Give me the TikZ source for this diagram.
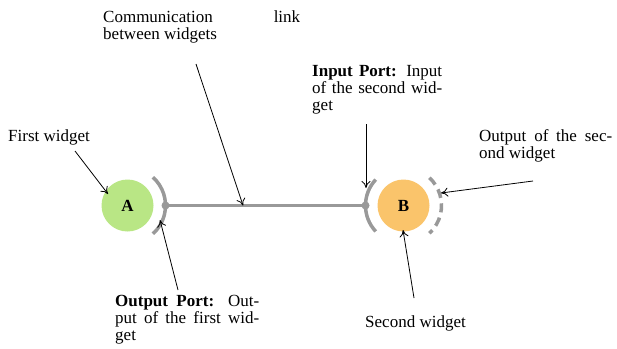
\documentclass[tikz,border=0pt]{standalone}
\usepackage{fontspec}
\setmainfont{Liberation Serif}
\usetikzlibrary{arrows.meta}
\definecolor{widgetA}{RGB}{185,230,133}
\definecolor{widgetB}{RGB}{250,196,107}
\definecolor{portgray}{RGB}{153,153,153}
\newcommand{\notefont}{\fontsize{17}{17.3}\selectfont}
\tikzset{
  widget/.style={circle, minimum size=52pt, inner sep=0pt, font=\notefont\bfseries},
  portarc/.style={draw=portgray, line width=3.5pt},
  portdot/.style={circle, fill=portgray, minimum size=8pt, inner sep=0pt},
  linkline/.style={draw=portgray, line width=3.5pt},
  callout/.style={draw=black, line width=0.8pt, -{To[length=7pt,width=9pt]}},
  note/.style={anchor=base west, inner sep=0pt, align=justify, font=\notefont},
}
\begin{document}
\begin{tikzpicture}[x=1pt, y=-1pt]
\useasboundingbox (0,0) rectangle (617,348);

% widgets
\node[widget, fill=widgetA] (A) at (127.5,205.5) {A};
\node[widget, fill=widgetB] (B) at (403.5,205.5) {B};

% ports
\draw[portarc] (A.center) ++(-48:38) arc[start angle=-48, end angle=48, radius=38];
\draw[portarc] (B.center) ++(137:38) arc[start angle=137, end angle=223, radius=38];
\draw[portarc, dash pattern=on 9pt off 5.5pt] (B.center) ++(-47:38) arc[start angle=-47, end angle=47, radius=38];

\node[portdot] (pA) at ([xshift=38pt]A.center) {};
\node[portdot] (pB) at ([xshift=-38pt]B.center) {};

% communication link
\draw[linkline] (pA.center) -- (pB.center);
\coordinate (linkmid) at (243,205.5);

% annotations
\node[note] (tFirst) at (8,141) {First widget};
\node[note, text width=197pt] (tLink) at (103,22) {Communication link\linebreak between widgets};
\node[note, text width=130pt] (tIn) at (312,76) {\textbf{Input Port:} Input of the second wid-\linebreak get};
\node[note, text width=133pt] (tOut2) at (479,141) {Output of the sec-\linebreak ond widget};
\node[note, text width=144pt] (tOut1) at (115,306) {\textbf{Output Port:} Out-\linebreak put of the first wid-\linebreak get};
\node[note] (tSecond) at (365,327) {Second widget};

% callout arrows
\coordinate (cFirst) at (75,151);
\coordinate (cLink) at (196,64);
\coordinate (cIn) at (366,124);
\coordinate (cOut2) at (533,181);
\coordinate (cOut1) at (178,290);
\coordinate (cSecond) at (414,298);

\coordinate (eFirst) at (108,194);
\coordinate (eIn) at (366,188);
\coordinate (eOut2) at (441,193);
\coordinate (eOut1) at (160,220);
\coordinate (eSecond) at (403,230);

\draw[callout] (cFirst) -- (eFirst);
\draw[callout] (cLink) -- (linkmid);
\draw[callout] (cIn) -- (eIn);
\draw[callout] (cOut2) -- (eOut2);
\draw[callout] (cOut1) -- (eOut1);
\draw[callout] (cSecond) -- (eSecond);
\end{tikzpicture}
\end{document}
